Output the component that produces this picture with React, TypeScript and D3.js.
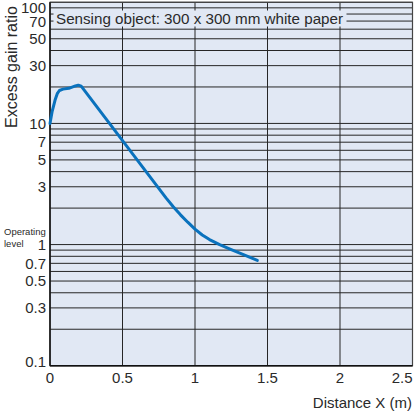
import React from "react";
import * as d3 from "d3";

const distance = [0, 0.015, 0.035, 0.05, 0.065, 0.09, 0.13, 0.175, 0.195, 0.215, 0.8, 0.85, 0.9, 0.95, 1.0, 1.05, 1.1, 1.17, 1.25, 1.33, 1.43];
const gain = [10, 12.6, 15.6, 17.6, 18.7, 19.2, 19.5, 20.4, 20.7, 20.3, 2.43, 2.05, 1.76, 1.53, 1.34, 1.2, 1.1, 1.0, 0.91, 0.83, 0.74];
const yTickLabels = [100, 70, 50, 30, 10, 7, 5, 3, 1, 0.7, 0.5, 0.3, 0.1];
const xTickLabels = [0, 0.5, 1, 1.5, 2, 2.5];
const yGridValues = [0.1, 0.2, 0.3, 0.4, 0.5, 0.6, 0.7, 0.8, 0.9, 1, 2, 3, 4, 5, 6, 7, 8, 9, 10, 20, 30, 40, 50, 60, 70, 80, 90, 100];
const xGridValues = [0.5, 1, 1.5, 2];

const W = 415, H = 414;
const L = 50, R = 412.5, T = 2.3, B = 365.7;
const BG = "#e1e8f4";
const LINE = "#0a72bd";
const TXT = "#2a2a2a";
const FONT = "'Liberation Sans', Arial, sans-serif";

export default function App() {
  const x = d3.scaleLinear().domain([0, 2.5]).range([L, R]);
  const y = d3.scaleLog().domain([0.1, 100]).range([B, T]);
  const pts = distance.map((d, i) => [d, gain[i]] as [number, number]);
  const line = d3
    .line<[number, number]>()
    .x((d) => x(d[0]))
    .y((d) => y(d[1]))
    .curve(d3.curveLinear);

  const yLabelPos = (v: number) => {
    if (v === 100) return y(v) + 5;
    if (v === 70) return y(v) + 0.5;
    if (v === 0.1) return y(v) - 4;
    return y(v);
  };

  return (
    <svg
      width={W}
      height={H}
      style={{ position: "absolute", left: 0, top: 0, fontFamily: FONT }}
    >
      <rect x={L} y={T} width={R - L} height={B - T} fill={BG} />
      {yGridValues.map((v) => (
        <line key={"gy" + v} x1={L} x2={R} y1={y(v)} y2={y(v)} stroke="#262626" strokeWidth={1} />
      ))}
      {xGridValues.map((v) => (
        <line key={"gx" + v} x1={x(v)} x2={x(v)} y1={T} y2={B} stroke="#262626" strokeWidth={1} />
      ))}
      <rect x={L} y={T} width={R - L} height={B - T} fill="none" stroke="#444" strokeWidth={1.2} />
      <line x1={L} x2={L} y1={T} y2={B} stroke="#111" strokeWidth={1.5} />
      <line x1={L} x2={R} y1={B} y2={B} stroke="#111" strokeWidth={1.5} />

      <rect x={53.5} y={10.5} width={293} height={16} fill={BG} />
      <text x={56} y={24} fontSize={15.2} fill={TXT}>
        Sensing object: 300 x 300 mm white paper
      </text>

      <path d={line(pts) || ""} fill="none" stroke={LINE} strokeWidth={3} strokeLinejoin="round" strokeLinecap="round" />

      {yTickLabels.map((v) => (
        <text key={"yl" + v} x={46} y={yLabelPos(v)} dy="0.35em" textAnchor="end" fontSize={15} fill={TXT}>
          {String(v)}
        </text>
      ))}
      {xTickLabels.map((v, i) => (
        <text
          key={"xl" + v}
          x={i === xTickLabels.length - 1 ? R : x(v)}
          y={378}
          dy="0.35em"
          textAnchor={i === xTickLabels.length - 1 ? "end" : "middle"}
          fontSize={15}
          fill={TXT}
        >
          {String(v)}
        </text>
      ))}
      <text x={412} y={408} textAnchor="end" fontSize={15} fill={TXT}>
        Distance X (m)
      </text>
      <text transform="translate(17,67) rotate(-90)" textAnchor="middle" fontSize={16} fill={TXT}>
        Excess gain ratio
      </text>
      <text x={4} y={235} fontSize={9.5} fill={TXT}>Operating</text>
      <text x={4} y={247} fontSize={9.5} fill={TXT}>level</text>
    </svg>
  );
}
